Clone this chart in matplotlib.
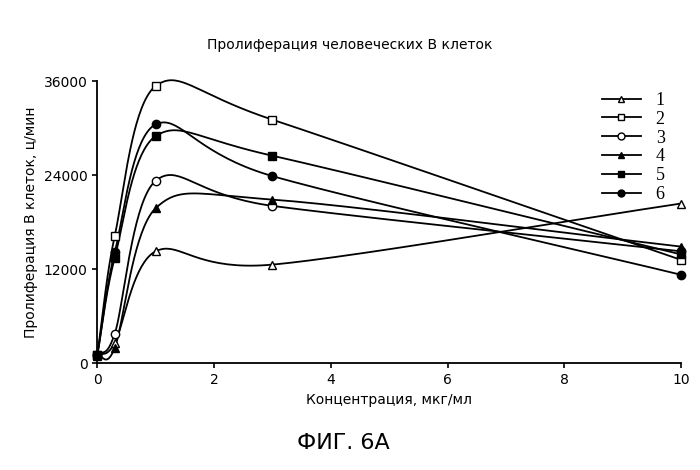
import numpy as np
import matplotlib
matplotlib.use("Agg")
import matplotlib.pyplot as plt

conc = [0, 0.3, 1, 3, 10]
s1 = [1000, 2600, 14300, 12600, 20400]
s2 = [1100, 16300, 35400, 31100, 13200]
s3 = [1000, 3800, 23300, 20100, 14300]
s4 = [900, 2000, 19800, 20900, 14900]
s5 = [1100, 13500, 29000, 26500, 13900]
s6 = [1000, 14200, 30500, 23900, 11300]
labels = ["1", "2", "3", "4", "5", "6"]
markers = ["^", "s", "o", "^", "s", "o"]
fills = ["white", "white", "white", "black", "black", "black"]

def smooth(x, y, n=40, k=0.45):
    x = np.asarray(x, float); y = np.asarray(y, float)
    sx = x.max() - x.min(); sy = y.max() - y.min()
    xs = x / sx; ys = y / sy
    N = len(x)
    tx = np.zeros(N); ty = np.zeros(N)
    for i in range(N):
        a = max(i-1, 0); b = min(i+1, N-1)
        tx[i] = (xs[b]-xs[a]) * k * (2 if (i == 0 or i == N-1) else 1)
        ty[i] = (ys[b]-ys[a]) * k * (2 if (i == 0 or i == N-1) else 1)
    X, Y = [], []
    t = np.linspace(0, 1, n)
    h00 = 2*t**3-3*t**2+1; h10 = t**3-2*t**2+t; h01 = -2*t**3+3*t**2; h11 = t**3-t**2
    for i in range(N-1):
        X.extend((h00*xs[i]+h10*tx[i]+h01*xs[i+1]+h11*tx[i+1])*sx)
        Y.extend((h00*ys[i]+h10*ty[i]+h01*ys[i+1]+h11*ty[i+1])*sy)
    return X, Y

fig = plt.figure(figsize=(7, 4.7), dpi=100)
ax = fig.add_axes([0.139, 0.227, 0.834, 0.6])
for s, m, f, lab in zip([s1, s2, s3, s4, s5, s6], markers, fills, labels):
    X, Y = smooth(conc, s)
    ax.plot(X, Y, color="black", lw=1.3, clip_on=False)
    ax.plot(conc, s, ls="none", marker=m, mfc=f, mec="black", ms=6, mew=1, clip_on=False, zorder=5)
    ax.plot([], [], color="black", lw=1.3, marker=m, mfc=f, mec="black", ms=5, label=lab)

ax.set_xlim(0, 10)
ax.set_ylim(0, 36000)
ax.set_xticks([0, 2, 4, 6, 8, 10])
ax.set_yticks([0, 12000, 24000, 36000])
ax.spines["top"].set_visible(False)
ax.spines["right"].set_visible(False)
ax.spines["left"].set_linewidth(1.3)
ax.spines["bottom"].set_linewidth(1.3)
ax.tick_params(direction="out", labelsize=10, width=1.2)
ax.set_xlabel("Концентрация, мкг/мл", fontsize=10)
ax.set_ylabel("Пролиферация В клеток, ц/мин", fontsize=10)
leg = ax.legend(loc="upper right", bbox_to_anchor=(1.0, 1.02), frameon=False,
                prop={"family": "Liberation Serif", "size": 13}, handlelength=2.2,
                labelspacing=0.1)
fig.text(0.5, 0.895, "Пролиферация человеческих В клеток", ha="center", fontsize=10)
fig.text(0.49, 0.045, "ФИГ. 6А", ha="center", fontsize=16)
fig.savefig("out.png")
